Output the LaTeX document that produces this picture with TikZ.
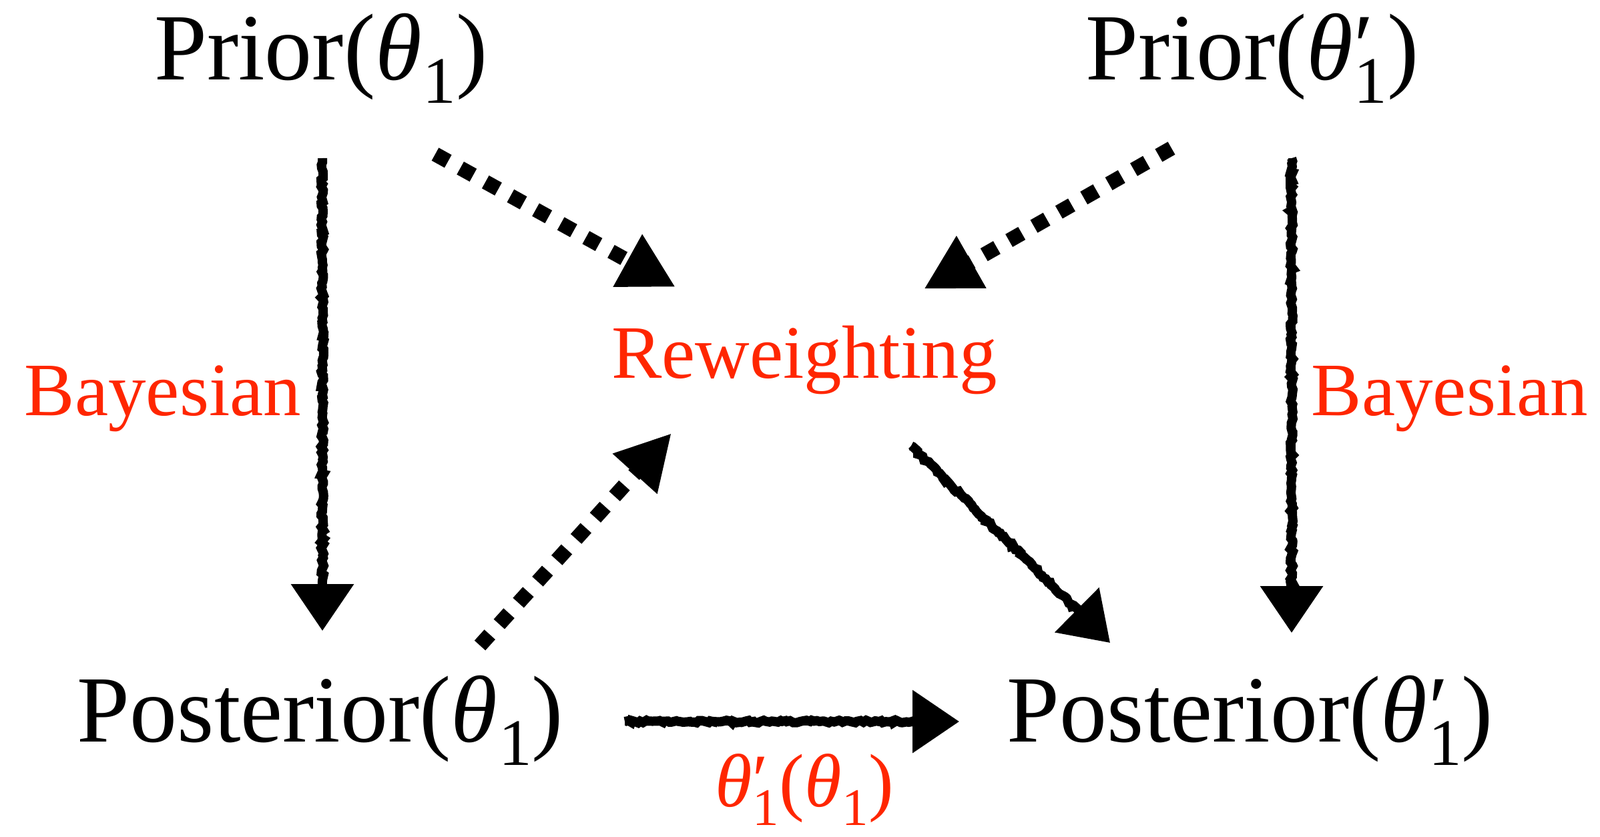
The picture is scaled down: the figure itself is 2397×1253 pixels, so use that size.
\documentclass[tikz,border=0pt]{standalone}
\usepackage{fontspec}
\usepackage{graphicx}
\setmainfont{Liberation Serif}
\usetikzlibrary{arrows.meta,decorations.pathmorphing,calc}
\definecolor{labred}{RGB}{255,38,0}
\newcommand{\thsub}{\textit{θ}\kern0.01em\raisebox{-0.25em}{\scalebox{0.7}{1}}}
\newcommand{\thsubp}{\textit{θ}\kern0.01em\rlap{\raisebox{0.03em}{\scalebox{0.95}{′}}}\raisebox{-0.25em}{\scalebox{0.7}{1}}}
\begin{document}
\begin{tikzpicture}[x=1pt,y=-1pt,
  blk/.style={inner sep=0pt,anchor=base,font=\fontsize{142}{166}\selectfont},
  rlab/.style={inner sep=0pt,anchor=base,text=labred,font=\fontsize{113}{132}\selectfont},
  dotarrow/.style={line width=22pt,dash pattern=on 22pt off 21pt,-{Triangle[length=82pt,width=84pt]}},
  sketcharrow/.style={line width=11pt,-{Triangle[length=70pt,width=92pt]}},
  rough/.style={line width=14pt,decorate,decoration={random steps,segment length=4pt,amplitude=2pt}}]
\useasboundingbox (0,0) rectangle (2397,1253);
% nodes
\node[blk] (p1) at (481,119) {Prior(\thsub)};
\node[blk] (p2) at (1876,119) {Prior(\thsubp)};
\node[blk] (q1) at (480,1111) {Posterior(\thsub)};
\node[blk] (q2) at (1873,1111) {Posterior(\thsubp)};
\node[rlab] (rw) at (1205,566) {Reweighting};
\node[rlab] (b1) at (244,622) {Bayesian};
\node[rlab] (b2) at (2172,622) {Bayesian};
\node[rlab] (tl) at (1205,1208) {\thsubp(\thsub)};
% connector ends tied to nodes
\coordinate (a1s) at ([shift={(2,118)}]p1.base);
\coordinate (a1e) at ([shift={(3,-166)}]q1.base);
\coordinate (a2s) at ([shift={(59,118)}]p2.base);
\coordinate (a2e) at ([shift={(62,-163)}]q2.base);
\coordinate (a3s) at ([shift={(160,102)}]rw.base);
\coordinate (a3e) at ([shift={(-210,-148)}]q2.base);
\coordinate (a4s) at ([shift={(456,-30)}]q1.base);
\coordinate (a4e) at ([shift={(-436,-30)}]q2.base);
% sketchy solid arrows
\foreach \s/\e in {a1s/a1e,a2s/a2e,a3s/a3e,a4s/a4e}{
  \draw[sketcharrow] (\s) -- (\e);
  \draw[rough] (\s) -- ($(\e)!66pt!(\s)$);
}
% dotted arrows
\draw[dotarrow] ([shift={(171,112)}]p1.base) -- ([shift={(-193,-136)}]rw.base);
\draw[dotarrow] ([shift={(-121,103)}]p2.base) -- ([shift={(179,-133)}]rw.base);
\draw[dotarrow] ([shift={(239,-144)}]q1.base) -- ([shift={(-199,83)}]rw.base);
\end{tikzpicture}
\end{document}
